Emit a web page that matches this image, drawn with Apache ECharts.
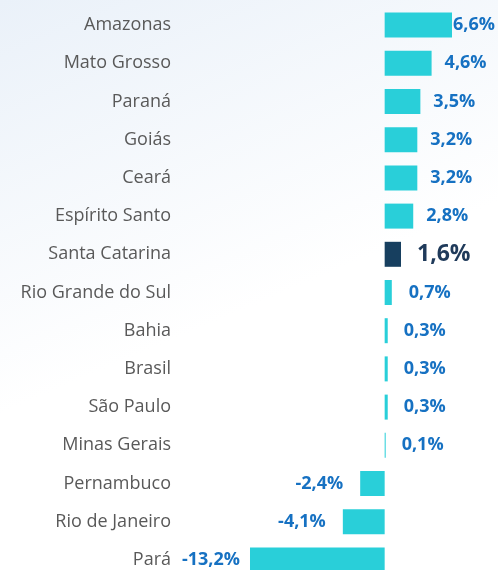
<!DOCTYPE html>
<html>
<head>
<meta charset="utf-8">
<script src="https://cdn.jsdelivr.net/npm/echarts@6/dist/echarts.min.js"></script>
<style>
  html, body { margin: 0; padding: 0; overflow: hidden; }
  /* um pouco mais alto que a janela: a última barra fica cortada como no original */
  #chart { width: 498px; height: 584px; }
</style>
</head>
<body>
<div id="chart"></div>
<script>
const categories = ['Amazonas', 'Mato Grosso', 'Paraná', 'Goiás', 'Ceará', 'Espírito Santo',
  'Santa Catarina', 'Rio Grande do Sul', 'Bahia', 'Brasil', 'São Paulo', 'Minas Gerais',
  'Pernambuco', 'Rio de Janeiro', 'Pará']
const values = [6.6, 4.6, 3.5, 3.2, 3.2, 2.8, 1.6, 0.7, 0.3, 0.3, 0.3, 0.1, -2.4, -4.1, -13.2]
const highlight = 'Santa Catarina'

// distancia do rótulo até a barra (aprox. como no original)
const labelGap = [1, 13, 13, 13, 13, 13, 16, 17, 16, 16, 16, 16, 17, 17, 10]

const chart = echarts.init(document.getElementById('chart'))

const seriesData = values.map((v, i) => {
  const isHi = categories[i] === highlight
  return {
    value: v,
    itemStyle: { color: isHi ? '#173f5f' : '#29cfd9' },
    label: {
      position: v < 0 ? 'left' : 'right',
      distance: labelGap[i],
      color: isHi ? '#1f3a5a' : '#1671c2',
      fontSize: isHi ? 23 : 18
    }
  }
})

chart.setOption({
  backgroundColor: {
    type: 'linear', x: 0, y: 0, x2: 0.3, y2: 0.6,
    colorStops: [
      { offset: 0, color: '#eaf1f9' },
      { offset: 1, color: '#ffffff' }
    ]
  },
  grid: { left: 250, width: 202, top: 6, height: 573, containLabel: false },
  xAxis: {
    type: 'value',
    min: -13.2,
    max: 6.6,
    show: false
  },
  yAxis: {
    type: 'category',
    inverse: true,
    data: categories,
    axisLine: { show: false, onZero: false },
    axisTick: { show: false },
    splitLine: { show: false },
    axisLabel: {
      margin: 79,
      color: '#595959',
      fontSize: 18,
      fontFamily: 'Open Sans'
    }
  },
  series: [{
    type: 'bar',
    data: seriesData,
    barWidth: 25,
    label: {
      show: true,
      fontWeight: 'bold',
      fontFamily: 'Open Sans',
      formatter: p => p.value.toFixed(1).replace('.', ',') + '%'
    }
  }]
})
</script>
</body>
</html>
